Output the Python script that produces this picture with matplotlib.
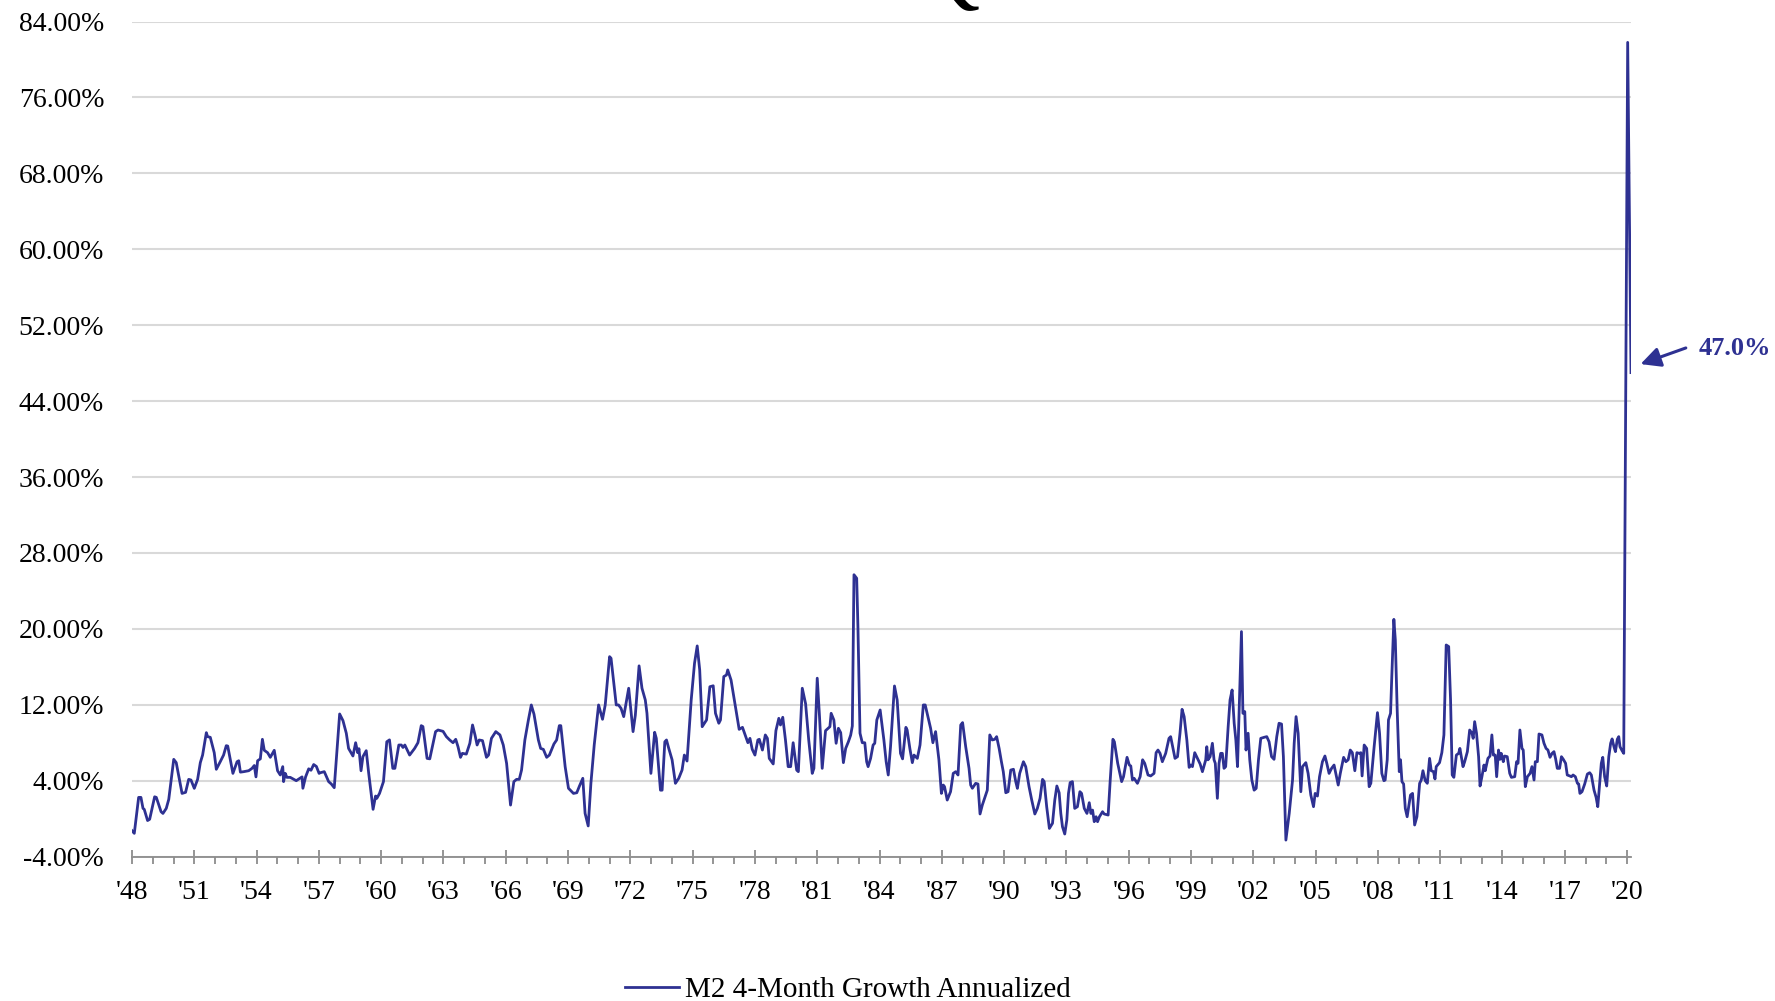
import matplotlib
matplotlib.use("Agg")
import matplotlib.pyplot as plt
from matplotlib.ticker import MultipleLocator

# ---------------- data ----------------
dates = [
    1948.00, 1948.11, 1948.32, 1948.43, 1948.53, 1948.59, 1948.75, 1948.85, 1949.09, 1949.17,
    1949.40, 1949.49, 1949.65, 1949.77, 1950.01, 1950.13, 1950.41, 1950.58, 1950.73, 1950.84,
    1951.00, 1951.16, 1951.29, 1951.40, 1951.58, 1951.64, 1951.77, 1951.96, 1952.06, 1952.25,
    1952.41, 1952.54, 1952.61, 1952.86, 1953.06, 1953.14, 1953.22, 1953.38, 1953.62, 1953.78,
    1953.89, 1953.97, 1954.05, 1954.18, 1954.28, 1954.37, 1954.53, 1954.66, 1954.85, 1955.01,
    1955.14, 1955.26, 1955.30, 1955.38, 1955.46, 1955.62, 1955.91, 1956.19, 1956.23, 1956.36,
    1956.51, 1956.62, 1956.75, 1956.88, 1957.01, 1957.07, 1957.26, 1957.47, 1957.60, 1957.74,
    1958.00, 1958.16, 1958.32, 1958.43, 1958.64, 1958.77, 1958.87, 1958.93, 1959.03, 1959.12,
    1959.28, 1959.40, 1959.61,
    1959.73, 1959.79, 1959.92, 1960.11, 1960.27, 1960.40, 1960.56, 1960.66, 1960.85, 1960.97,
    1961.05, 1961.14, 1961.37, 1961.61, 1961.77, 1961.93, 1962.01, 1962.21, 1962.34, 1962.62,
    1962.74, 1962.98, 1963.14, 1963.30, 1963.46, 1963.59, 1963.70, 1963.82, 1963.91, 1964.10,
    1964.27, 1964.40, 1964.52, 1964.62, 1964.72, 1964.88, 1965.07, 1965.17, 1965.31, 1965.52,
    1965.72, 1965.88, 1966.04, 1966.23, 1966.39, 1966.52, 1966.65, 1966.76, 1966.92, 1967.09,
    1967.23, 1967.36, 1967.57, 1967.68, 1967.81, 1967.97, 1968.10, 1968.32, 1968.45, 1968.58,
    1968.65, 1968.86, 1969.02, 1969.26, 1969.42, 1969.55, 1969.71, 1969.82, 1969.97, 1970.10,
    1970.26, 1970.47, 1970.66, 1970.79, 1971.00, 1971.07, 1971.32, 1971.43, 1971.55, 1971.68,
    1971.92, 1972.13, 1972.24, 1972.42, 1972.56, 1972.72, 1972.80, 1972.99, 1973.05, 1973.17,
    1973.25, 1973.45, 1973.53, 1973.66, 1973.74, 1973.85, 1974.01, 1974.17, 1974.33, 1974.49,
    1974.60, 1974.73, 1974.93, 1975.09, 1975.22, 1975.34, 1975.46, 1975.67, 1975.83, 1975.99,
    1976.10, 1976.26, 1976.34, 1976.50, 1976.63, 1976.69, 1976.85, 1976.98, 1977.24, 1977.40,
    1977.50, 1977.66, 1977.76, 1977.87, 1978.00, 1978.14, 1978.21, 1978.36, 1978.50, 1978.60,
    1978.69, 1978.88, 1979.01, 1979.15, 1979.23, 1979.34, 1979.47, 1979.60, 1979.72, 1979.84,
    1980.01, 1980.09, 1980.28, 1980.44, 1980.59, 1980.76, 1980.84, 1981.00, 1981.11, 1981.24,
    1981.40, 1981.61, 1981.67, 1981.80, 1981.91, 1982.02, 1982.13, 1982.26, 1982.37, 1982.50,
    1982.61, 1982.69, 1982.77, 1982.90, 1982.96, 1983.06, 1983.17, 1983.29, 1983.38, 1983.45,
    1983.57, 1983.69, 1983.77, 1983.87, 1984.03,
    1984.21, 1984.32, 1984.42, 1984.53, 1984.72, 1984.85, 1985.01, 1985.11, 1985.27, 1985.33,
    1985.46, 1985.58, 1985.66, 1985.82, 1985.95, 1986.11, 1986.20, 1986.33, 1986.46, 1986.57,
    1986.70, 1986.86, 1986.98, 1987.07, 1987.13, 1987.26, 1987.42, 1987.55, 1987.67, 1987.78,
    1987.91, 1988.00, 1988.15, 1988.31, 1988.39, 1988.47, 1988.63, 1988.74, 1988.84, 1988.95,
    1989.11, 1989.19, 1989.31, 1989.43, 1989.55, 1989.64, 1989.76, 1989.87, 1989.96, 1990.08,
    1990.19, 1990.32, 1990.45, 1990.56, 1990.64, 1990.75, 1990.93, 1991.04, 1991.20, 1991.33,
    1991.48, 1991.60, 1991.73, 1991.85, 1991.93, 1992.05, 1992.18, 1992.33, 1992.44, 1992.54,
    1992.65, 1992.73, 1992.81, 1992.92, 1993.02, 1993.10, 1993.18, 1993.29, 1993.40, 1993.53,
    1993.65, 1993.73, 1993.86, 1993.99, 1994.10, 1994.18, 1994.26, 1994.34, 1994.43, 1994.50,
    1994.59, 1994.74, 1994.82, 1995.01, 1995.11, 1995.24, 1995.31, 1995.47, 1995.54, 1995.66,
    1995.75, 1995.92, 1996.03,
    1996.10, 1996.18, 1996.26, 1996.42, 1996.55, 1996.67, 1996.77, 1996.93, 1997.06, 1997.22,
    1997.32, 1997.41, 1997.51, 1997.62, 1997.78, 1997.94, 1998.02, 1998.15, 1998.23, 1998.35,
    1998.47, 1998.57, 1998.67, 1998.80, 1998.91, 1998.99, 1999.07, 1999.18, 1999.31, 1999.44,
    1999.55, 1999.71, 1999.76, 1999.82, 1999.92, 2000.03, 2000.11, 2000.17, 2000.27, 2000.35,
    2000.43, 2000.51, 2000.59, 2000.67, 2000.79, 2000.88, 2000.98, 2001.08, 2001.16, 2001.24,
    2001.32, 2001.43, 2001.50, 2001.59, 2001.65, 2001.75, 2001.83, 2001.93, 2002.04, 2002.14,
    2002.25, 2002.36, 2002.52, 2002.65, 2002.76, 2002.88, 2003.00, 2003.13, 2003.24, 2003.36,
    2003.45, 2003.57, 2003.73, 2003.89, 2003.97, 2004.06, 2004.16, 2004.29, 2004.37, 2004.53,
    2004.64, 2004.77, 2004.90, 2004.98, 2005.09, 2005.19, 2005.33, 2005.45, 2005.54, 2005.65,
    2005.77, 2005.89, 2006.09, 2006.19, 2006.35, 2006.46, 2006.57, 2006.67, 2006.77, 2006.89,
    2006.99, 2007.10, 2007.18, 2007.24, 2007.34, 2007.46, 2007.58, 2007.66, 2007.82, 2007.98,
    2008.08, 2008.19, 2008.29, 2008.35, 2008.45, 2008.51, 2008.61, 2008.67, 2008.77, 2008.84,
    2008.93, 2009.03, 2009.09, 2009.16, 2009.24, 2009.32, 2009.41, 2009.57, 2009.67, 2009.77,
    2009.88, 2010.01, 2010.09, 2010.17, 2010.28, 2010.38, 2010.49, 2010.57, 2010.68, 2010.75,
    2010.81, 2010.97, 2011.08, 2011.18, 2011.29, 2011.41, 2011.50, 2011.58, 2011.66, 2011.78,
    2011.89, 2011.95, 2012.10, 2012.18, 2012.31, 2012.42, 2012.53, 2012.59, 2012.66, 2012.75,
    2012.85, 2012.92, 2013.01, 2013.11, 2013.17, 2013.30, 2013.40, 2013.49, 2013.56, 2013.65,
    2013.72, 2013.81, 2013.88, 2013.94, 2014.04, 2014.10, 2014.23, 2014.35, 2014.43, 2014.59,
    2014.68, 2014.75, 2014.84, 2014.94, 2015.00, 2015.10, 2015.20, 2015.33, 2015.42, 2015.52,
    2015.58, 2015.68, 2015.76, 2015.90, 2016.00, 2016.10, 2016.19, 2016.29, 2016.39, 2016.48,
    2016.56, 2016.64, 2016.75, 2016.84, 2016.93, 2017.04, 2017.12, 2017.24, 2017.32, 2017.40,
    2017.51, 2017.61, 2017.67, 2017.73, 2017.83, 2017.96, 2018.09, 2018.20, 2018.28, 2018.41,
    2018.51, 2018.59, 2018.67, 2018.76, 2018.83, 2018.92, 2019.02, 2019.12, 2019.21, 2019.28,
    2019.37, 2019.44, 2019.53, 2019.60, 2019.66, 2019.76, 2019.84, 2020.03, 2020.19,
]

m2_growth = [
    -1.27, -1.55, 2.24, 2.24, 1.08, 0.98, -0.20, -0.07, 2.30, 2.24,
    0.73, 0.55, 1.08, 2.03, 6.25, 5.90, 2.66, 2.77, 4.14, 4.07,
    3.19, 4.14, 5.90, 6.70, 9.06, 8.64, 8.57, 6.95, 5.20, 6.00,
    6.70, 7.69, 7.65, 4.77, 6.00, 6.10, 4.90, 4.95, 5.05, 5.30,
    5.60, 4.40, 6.10, 6.30, 8.36, 7.20, 6.95, 6.46, 7.20, 5.05,
    4.60, 5.48, 3.90, 4.77, 4.35, 4.35, 4.00, 4.40, 3.20, 4.40,
    5.25, 5.10, 5.70, 5.50, 4.77, 4.84, 4.95, 3.90, 3.65, 3.26,
    11.03, 10.33, 9.00, 7.40, 6.60, 8.00, 6.95, 7.37, 5.05, 6.53,
    7.16, 4.77, 0.98,
    2.38, 2.14, 2.66, 3.90, 8.10, 8.30, 5.30, 5.30, 7.76, 7.76,
    7.50, 7.76, 6.70, 7.40, 8.00, 9.80, 9.70, 6.35, 6.30, 9.17,
    9.34, 9.20, 8.64, 8.29, 8.00, 8.36, 7.58, 6.46, 6.88, 6.80,
    7.94, 9.87, 8.80, 7.76, 8.29, 8.22, 6.46, 6.70, 8.46, 9.17,
    8.82, 7.76, 5.83, 1.43, 3.90, 4.14, 4.14, 5.12, 8.29, 10.40,
    11.98, 11.00, 8.29, 7.40, 7.30, 6.46, 6.70, 7.87, 8.29, 9.80,
    9.80, 5.48, 3.20, 2.66, 2.73, 3.44, 4.25, 0.56, -0.77, 3.72,
    7.76, 11.98, 10.47, 11.98, 17.07, 16.90, 11.98, 11.98, 11.63, 10.75,
    13.74, 9.17, 10.90, 16.10, 13.74, 12.50, 11.10, 4.77, 6.20, 9.10,
    8.46, 3.00, 3.00, 8.10, 8.29, 7.40, 6.20, 3.72, 4.25, 5.12,
    6.70, 6.07, 12.50, 16.37, 18.20, 15.67, 9.69, 10.40, 13.90, 14.00,
    11.10, 10.05, 10.40, 14.97, 15.14, 15.67, 14.60, 12.86, 9.41, 9.62,
    8.99, 8.00, 8.46, 7.30, 6.70, 8.29, 8.36, 7.23, 8.82, 8.46,
    6.35, 5.76, 9.27, 10.57, 9.87, 10.68, 8.29, 5.48, 5.48, 8.00,
    5.12, 4.95, 13.74, 12.10, 8.29, 4.77, 5.30, 14.80, 10.75, 5.30,
    9.27, 9.69, 11.10, 10.40, 7.94, 9.52, 9.06, 5.90, 7.40, 8.10,
    8.80, 9.76, 25.70, 25.33, 20.20, 9.00, 8.00, 8.00, 6.00, 5.48,
    6.35, 7.76, 7.94, 10.40, 11.45,
    8.29, 6.00, 4.60, 7.58, 13.98, 12.50, 6.88, 6.30, 9.62, 9.34,
    7.40, 5.90, 6.70, 6.35, 7.76, 11.98, 11.98, 10.75, 9.52, 8.00,
    9.17, 6.20, 2.66, 3.54, 3.37, 1.96, 2.84, 4.77, 4.95, 4.60,
    9.87, 10.12, 7.58, 5.30, 3.54, 3.20, 3.72, 3.65, 0.49, 1.43,
    2.49, 3.00, 8.82, 8.29, 8.36, 8.64, 7.40, 6.00, 4.95, 2.73,
    2.84, 5.12, 5.20, 3.90, 3.19, 4.77, 6.00, 5.48, 3.37, 1.96,
    0.49, 1.08, 2.14, 4.14, 3.90, 1.26, -1.03, -0.49, 1.96, 3.44,
    2.73, 0.55, -0.85, -1.62, -0.14, 2.66, 3.80, 3.90, 1.08, 1.26,
    2.84, 2.66, 1.08, 0.55, 1.68, 0.55, 0.90, -0.32, 0.20, -0.32,
    0.20, 0.73, 0.49, 0.38, 4.07, 8.36, 8.10, 5.83, 5.12, 3.90,
    4.42, 6.46, 5.65,
    5.55, 4.07, 4.25, 3.72, 4.42, 6.20, 5.83, 4.60, 4.50, 4.77,
    6.95, 7.23, 6.88, 6.00, 6.88, 8.46, 8.64, 7.23, 6.35, 6.53,
    9.00, 11.52, 10.75, 8.29, 5.40, 5.65, 5.48, 6.95, 6.35, 5.76,
    4.95, 6.20, 7.58, 6.20, 6.53, 7.94, 6.20, 5.83, 2.14, 5.83,
    6.88, 6.88, 5.30, 5.48, 9.69, 12.50, 13.56, 10.05, 8.29, 5.48,
    11.45, 19.71, 11.10, 11.28, 7.23, 9.00, 6.20, 4.07, 3.00, 3.19,
    6.20, 8.46, 8.57, 8.64, 8.10, 6.53, 6.25, 8.64, 10.05, 9.97,
    6.53, -2.26, 0.55, 4.07, 7.94, 10.75, 9.00, 2.84, 5.48, 5.90,
    4.77, 2.49, 1.26, 2.66, 2.38, 4.42, 6.00, 6.60, 5.83, 4.77,
    5.30, 5.65, 3.54, 4.77, 6.46, 6.00, 6.20, 7.23, 6.95, 5.05,
    6.95, 6.88, 6.95, 4.50, 7.76, 7.40, 3.37, 3.72, 7.58, 11.17,
    9.00, 4.77, 4.00, 4.07, 6.20, 10.40, 11.10, 14.97, 21.00, 18.83,
    11.45, 4.95, 6.20, 3.90, 3.65, 1.08, 0.20, 2.49, 2.66, -0.67,
    0.20, 3.72, 4.07, 5.05, 4.00, 3.72, 6.35, 5.05, 4.95, 4.18,
    5.48, 5.90, 6.95, 8.82, 18.30, 18.13, 12.50, 4.60, 4.35, 6.70,
    6.88, 7.40, 5.48, 6.00, 7.06, 9.34, 9.00, 8.46, 10.22, 9.00,
    6.53, 3.44, 4.42, 5.65, 5.05, 6.35, 6.60, 8.82, 6.70, 6.70,
    4.42, 7.23, 6.25, 6.88, 6.00, 6.60, 6.53, 4.77, 4.35, 4.42,
    6.00, 5.83, 9.34, 7.40, 7.23, 3.37, 4.42, 4.77, 5.48, 4.07,
    6.00, 6.00, 8.92, 8.82, 7.94, 7.40, 7.23, 6.46, 6.88, 7.06,
    6.30, 5.30, 5.30, 6.53, 6.25, 5.83, 4.60, 4.50, 4.42, 4.60,
    4.42, 3.72, 3.65, 2.66, 2.84, 3.65, 4.70, 4.84, 4.60, 3.00,
    2.24, 1.26, 3.37, 5.83, 6.46, 4.42, 3.44, 6.53, 7.94, 8.40,
    7.58, 7.06, 8.36, 8.64, 7.58, 7.16, 6.88, 81.80, 47.00,
]

tick_years = list(range(1948, 2021, 3))
tick_labels = ["'%02d" % (y % 100) for y in tick_years]
y_ticks = list(range(-4, 85, 8))
series_name = "M2 4-Month Growth Annualized"
latest_label = "47.0%"

# ---------------- style ----------------
plt.rcParams['font.family'] = ['Liberation Serif', 'DejaVu Serif']
line_color = '#2e3192'
axis_gray = '#8c8c8c'
grid_gray = '#d9d9d9'

W, H = 1775, 1001
fig = plt.figure(figsize=(W / 100, H / 100), dpi=100)
left, right = 132 / W, 1631 / W
top, bottom = 1 - 21.5 / H, 1 - 856.6 / H
ax = fig.add_axes([left, bottom, right - left, top - bottom])

ax.plot(dates, m2_growth, color=line_color, lw=2.0, label=series_name,
        solid_joinstyle='round', zorder=3)

ax.set_xlim(1948, dates[-1])
ax.set_ylim(-4, 84)

ax.set_yticks(y_ticks)
ax.set_yticklabels([f"{v:.2f}%" for v in y_ticks])
ax.yaxis.grid(True, color=grid_gray, lw=1.5)
ax.set_axisbelow(True)

for s in ['top', 'right', 'left']:
    ax.spines[s].set_visible(False)
ax.spines['bottom'].set_color(axis_gray)
ax.spines['bottom'].set_linewidth(1.3)

ax.tick_params(axis='y', length=0, pad=20, labelsize=20, labelcolor='black')
ax.set_xticks(tick_years)
ax.set_xticklabels(tick_labels)
ax.xaxis.set_minor_locator(MultipleLocator(1))
ax.tick_params(axis='x', which='major', direction='inout', length=10, width=1.3,
               color=axis_gray, labelsize=20, pad=12)
ax.tick_params(axis='x', which='minor', direction='out', length=5, width=1.3,
               color=axis_gray)

# annotation of the latest value
x_last, y_last = dates[-1], m2_growth[-1]
ax.annotate('', xy=(x_last + 0.46, y_last + 0.9), xytext=(x_last + 2.64, y_last + 2.6),
            arrowprops=dict(arrowstyle='-|>,head_length=0.6,head_width=0.3',
                            color=line_color, lw=2.2, mutation_scale=20,
                            shrinkA=0, shrinkB=0),
            annotation_clip=False)
ax.text(x_last + 3.26, y_last + 1.86, latest_label, ha='left', va='baseline',
        fontsize=19, fontweight='bold', color=line_color, clip_on=False)

# legend
fig.legend(loc='center left', bbox_to_anchor=(625 / W, 1 - 990 / H), frameon=False,
           fontsize=21, handlelength=1.85, handletextpad=0.2, borderpad=0,
           borderaxespad=0)

# fragment of the cut-off title glyph at the top
fig.text(0.534, 1 + 4 / H, "Q", ha='center', va='baseline', fontsize=64,
         color='black')

fig.savefig('out.png', dpi=100)
